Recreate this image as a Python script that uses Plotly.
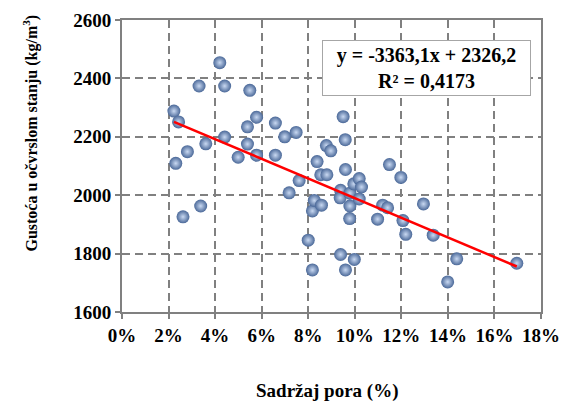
import plotly.graph_objects as go

# Data: porosity (fraction) and hardened density (kg/m3)
pore_content = [0.0223, 0.0243, 0.0231, 0.0281, 0.0262, 0.0331, 0.0338, 0.0360, 0.0420, 0.0441,
                0.0441, 0.0499, 0.0539, 0.0539, 0.0549, 0.0578, 0.0578, 0.0659, 0.0659, 0.0699,
                0.0748, 0.0718, 0.0761, 0.0800, 0.0818, 0.0818, 0.0826, 0.0838, 0.0857, 0.0854,
                0.0880, 0.0878, 0.0897, 0.0939, 0.0937, 0.0939, 0.0950, 0.0959, 0.0960, 0.0960,
                0.0979, 0.0979, 0.0978, 0.0998, 0.0996, 0.1019, 0.1029, 0.1019, 0.1098, 0.1120,
                0.1141, 0.1149, 0.1198, 0.1207, 0.1219, 0.1295, 0.1337, 0.1399, 0.1438, 0.1696]
density = [2288, 2251, 2109, 2149, 1926, 2374, 1963, 2176, 2454, 2374,
           2199, 2130, 2234, 2175, 2359, 2267, 2137, 2247, 2137, 2200,
           2215, 2008, 2050, 1846, 1744, 1946, 1982, 2115, 1966, 2070,
           2070, 2170, 2152, 2017, 1991, 1797, 2269, 2190, 2088, 1744,
           2007, 1963, 1920, 1780, 2039, 2057, 2028, 1987, 1918, 1966,
           1957, 2105, 2061, 1913, 1866, 1970, 1863, 1703, 1782, 1767]

slope = -3363.1
intercept = 2326.2
r_squared = "0,4173"

x_ticks = [0, 0.02, 0.04, 0.06, 0.08, 0.10, 0.12, 0.14, 0.16, 0.18]
x_tick_labels = ["0%", "2%", "4%", "6%", "8%", "10%", "12%", "14%", "16%", "18%"]
y_ticks = [1600, 1800, 2000, 2200, 2400, 2600]

FONT = "Liberation Serif"

W, H = 563, 403
PLOT_L, PLOT_R, PLOT_T, PLOT_B = 122.4, 540.7, 20.0, 311.7


def px_x(p):
    return (p - PLOT_L) / (PLOT_R - PLOT_L)


def px_y(p):
    return (PLOT_B - p) / (PLOT_B - PLOT_T)


x_min, x_max = min(pore_content), max(pore_content)
trend_x = [x_min, x_max]
trend_y = [slope * v + intercept for v in trend_x]

fig = go.Figure()
fig.add_trace(go.Scatter(
    x=pore_content, y=density, mode="markers",
    marker=dict(size=13, color="#4a6898",
                gradient=dict(type="radial", color="#c9d9f2"),
                line=dict(width=0)),
    showlegend=False, hoverinfo="x+y"))
fig.add_trace(go.Scatter(
    x=trend_x, y=trend_y, mode="lines",
    line=dict(color="#ff0000", width=2.5),
    showlegend=False))

axis_common = dict(
    showline=True, linecolor="#808080", linewidth=2, mirror=True,
    showgrid=True, gridcolor="#808080", griddash="8px,5px", gridwidth=2,
    ticks="outside", tickcolor="#808080", ticklen=5, tickwidth=1.5,
    zeroline=False, automargin=False,
    tickfont=dict(family=FONT, size=19, color="black", weight="bold"),
)

fig.update_xaxes(range=[0, 0.18], tickvals=x_ticks, ticktext=x_tick_labels, **axis_common)
fig.update_yaxes(range=[1600, 2600], tickvals=y_ticks, **axis_common)

fig.add_annotation(
    xref="paper", yref="paper", x=px_x(327), y=px_y(391),
    text="<b>Sadržaj pora (%)</b>", showarrow=False,
    font=dict(family=FONT, size=19, color="black"), xanchor="center", yanchor="middle")
fig.add_annotation(
    xref="paper", yref="paper", x=px_x(31), y=px_y(133),
    text="<b>Gustoća u očvrslom stanju (kg/m<sup>3</sup>)</b>", showarrow=False,
    textangle=-90,
    font=dict(family=FONT, size=16, color="black"), xanchor="center", yanchor="middle")

fig.add_annotation(
    xref="paper", yref="paper", x=px_x(426), y=px_y(67.5),
    text=f"<b>y = {str(slope).replace('.', ',')}x + {str(intercept).replace('.', ',')}</b><br><b>R² = {r_squared}</b>",
    showarrow=False, align="center",
    font=dict(family=FONT, size=20, color="black"),
    bgcolor="white", bordercolor="#a6a6a6", borderwidth=1, borderpad=3,
    xanchor="center", yanchor="middle", width=201)

fig.update_layout(
    width=W, height=H,
    margin=dict(l=PLOT_L, r=W - PLOT_R, t=PLOT_T, b=H - PLOT_B),
    paper_bgcolor="white", plot_bgcolor="white",
)

# remove the browser's default body margin so the figure fills the window exactly
fig.write_html("out.html",
               config={"displayModeBar": False},
               post_script="document.body.style.margin='0px';document.body.style.overflow='hidden';")
